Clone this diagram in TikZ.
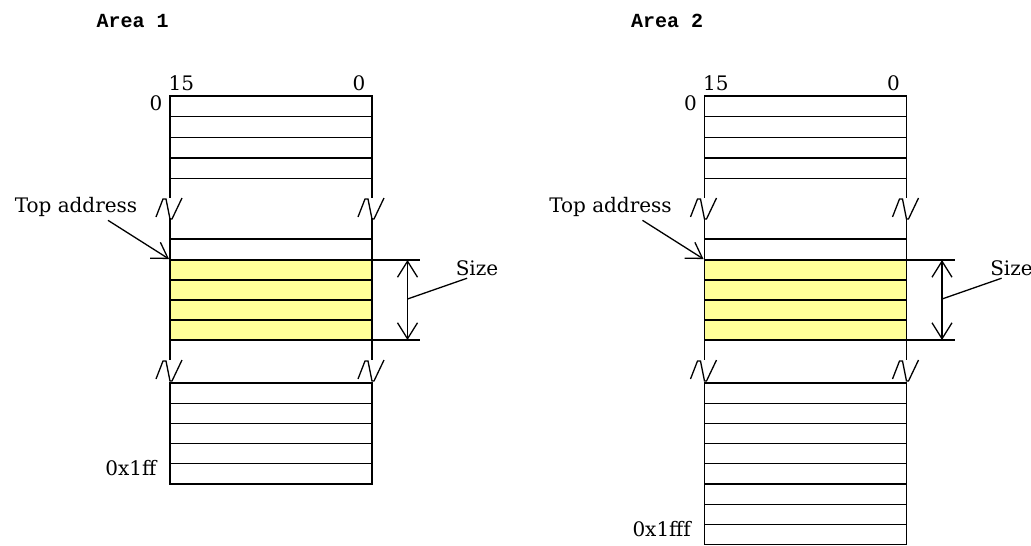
\documentclass[tikz,border=0pt]{standalone}
\usepackage{fontspec}
\setmainfont{DejaVu Serif}
\newfontfamily\areafont{Liberation Mono}
\usetikzlibrary{arrows.meta}
\definecolor{memyellow}{RGB}{255,255,153}
\begin{document}
\begin{tikzpicture}[x=1pt,y=-1pt,line width=1.3pt,
  lbl/.style={font=\fontsize{20}{22}\selectfont,inner sep=0pt},
  arealbl/.style={font=\areafont\bfseries\fontsize{20}{22}\selectfont,inner sep=0pt,anchor=west},
  brk/.pic={\draw[line width=1.3pt] (-14,19) -- (-7,1) -- (-4,1) -- (0,21) -- (2,21) -- (12,0);},
  ptrarrow/.style={-{Straight Barb[length=15pt,width=19pt]}},
  dimarrow/.style={{Straight Barb[length=16pt,width=20pt]}-{Straight Barb[length=16pt,width=20pt]}}]
\useasboundingbox (0,0) rectangle (1031,546);
\foreach \ox/\nm/\nb/\last in {0/1/5/0x1ff,534.5/2/8/0x1fff}{
  \pgfmathsetmacro\L{170+\ox}
  \pgfmathsetmacro\R{372+\ox}
  \pgfmathsetmacro\B{383+\nb*20.2}
  \pgfmathtruncatemacro\nbm{\nb-1}
  % top block
  \draw (\L,96) rectangle (\R,178.3);
  \foreach \y in {116.7,137.5,158}{\draw (\L,\y) -- (\R,\y);}
  \draw (\L,178.3) -- (\L,198) (\R,178.3) -- (\R,198);
  \pic at (\L,198) {brk};
  \pic at (\R,198) {brk};
  % middle block
  \fill[memyellow] (\L,260) rectangle (\R,340);
  \draw (\L,218) -- (\L,360) (\R,218) -- (\R,360);
  \draw (\L,239) -- (\R,239);
  \foreach \y in {280,300,320}{\draw (\L,\y) -- (\R,\y);}
  \draw (\L,260) -- (\R+48,260);
  \draw (\L,340) -- (\R+48,340);
  \pic at (\L,360) {brk};
  \pic at (\R,360) {brk};
  % bottom block
  \draw (\L,383) rectangle (\R,\B);
  \foreach \k in {1,...,\nbm}{\draw (\L,383+\k*20.2) -- (\R,383+\k*20.2);}
  % labels
  \node[arealbl] (area\nm) at (\L-74,21) {Area \nm};
  \node[lbl,anchor=west] (bhi\nm) at (\L-2,83) {15};
  \node[lbl] (blo\nm) at (\R-13,83) {0};
  \node[lbl] (afirst\nm) at (\L-14,103) {0};
  \node[lbl,anchor=east] (alast\nm) at (\L-13,\B-16) {\last};
  % top address pointer
  \node[lbl] (ta\nm) at (\L-94,207) {Top address};
  \coordinate (tip\nm) at (\L-1,259);
  \draw[ptrarrow] ([shift={(32,3)}]ta\nm.south) -- (tip\nm);
  % size dimension
  \node[lbl] (sz\nm) at (\R+105,268) {Size};
  \coordinate (da\nm) at (\R+35.5,260);
  \coordinate (db\nm) at (\R+35.5,340);
  \coordinate (dm\nm) at (\R+35.5,299);
  \draw[dimarrow] (da\nm) -- (db\nm);
  \draw (dm\nm) -- ([shift={(12,2)}]sz\nm.south west);
}
\end{tikzpicture}
\end{document}
